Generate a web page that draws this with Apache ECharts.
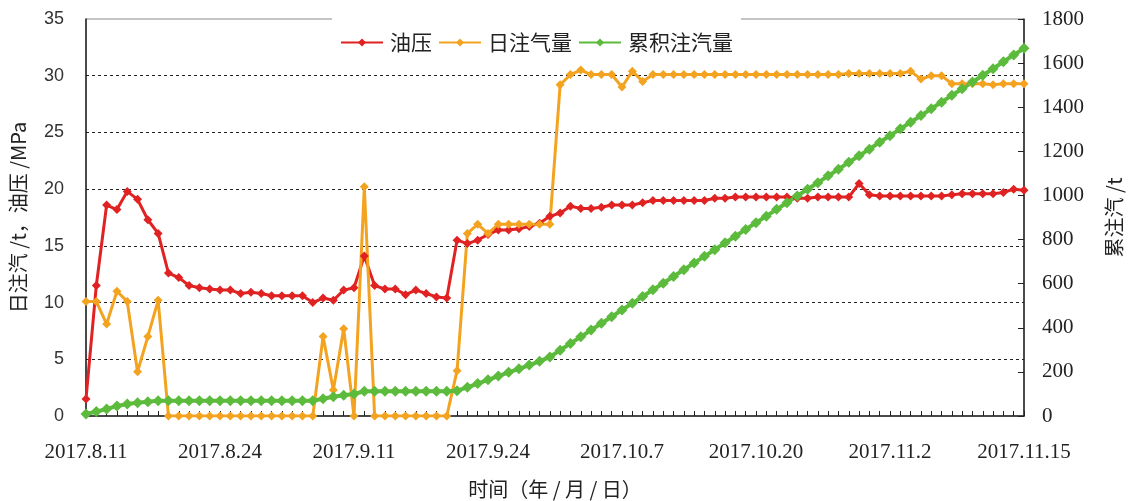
<!DOCTYPE html>
<html>
<head>
<meta charset="utf-8">
<script src="https://cdn.jsdelivr.net/npm/echarts@6/dist/echarts.min.js"></script>
<style>
  html, body { margin: 0; padding: 0; background: #fff; }
  #chart { width: 1128px; height: 501px; }
</style>
</head>
<body>
<div id="chart"></div>
<script>
// x 轴刻度标签（每 13 个点一个）
const tickLabels = ["2017.8.11", "2017.8.24", "2017.9.11", "2017.9.24", "2017.10.7", "2017.10.20", "2017.11.2", "2017.11.15"];
const labelStep = 13;

// 油压 /MPa
const oilPressure = [
  1.5, 11.5, 18.6, 18.2, 19.8, 19.1, 17.3, 16.1, 12.6, 12.2,
  11.5, 11.3, 11.2, 11.1, 11.1, 10.8, 10.9, 10.8, 10.6, 10.6,
  10.6, 10.6, 10.0, 10.4, 10.2, 11.1, 11.3, 14.1, 11.5, 11.2,
  11.2, 10.7, 11.1, 10.8, 10.5, 10.4, 15.5, 15.2, 15.5, 16.0,
  16.4, 16.4, 16.5, 16.7, 17.0, 17.6, 17.9, 18.5, 18.3, 18.3,
  18.4, 18.6, 18.6, 18.6, 18.8, 19.0, 19.0, 19.0, 19.0, 19.0,
  19.0, 19.2, 19.2, 19.3, 19.3, 19.3, 19.3, 19.3, 19.3, 19.2,
  19.2, 19.3, 19.3, 19.3, 19.3, 20.5, 19.5, 19.4, 19.4, 19.4,
  19.4, 19.4, 19.4, 19.4, 19.5, 19.6, 19.6, 19.6, 19.6, 19.7,
  20.0, 19.9
];

// 日注气量 /t
const dailyInjection = [
  10.1, 10.1, 8.1, 11.0, 10.1, 3.9, 7.0, 10.2, 0, 0,
  0, 0, 0, 0, 0, 0, 0, 0, 0, 0,
  0, 0, 0, 7.0, 2.3, 7.7, 0, 20.2, 0, 0,
  0, 0, 0, 0, 0, 0, 4.0, 16.1, 16.9, 16.1,
  16.9, 16.9, 16.9, 16.9, 16.9, 16.9, 29.2, 30.1, 30.5, 30.1,
  30.1, 30.1, 29.0, 30.4, 29.5, 30.1, 30.1, 30.1, 30.1, 30.1,
  30.1, 30.1, 30.1, 30.1, 30.1, 30.1, 30.1, 30.1, 30.1, 30.1,
  30.1, 30.1, 30.1, 30.1, 30.2, 30.2, 30.2, 30.2, 30.2, 30.2,
  30.4, 29.7, 30.0, 30.0, 29.3, 29.3, 29.3, 29.3, 29.2, 29.3,
  29.3, 29.3
];

// 累积注汽量 /t
const cumulativeInjection = [
  9, 20, 32, 45, 54, 60, 65, 69, 69, 69,
  69, 69, 69, 69, 69, 69, 69, 69, 69, 69,
  69, 69, 69, 78, 87, 94, 100, 112, 112, 112,
  112, 112, 112, 112, 112, 112, 115, 130, 147, 164,
  181, 198, 214, 231, 248, 268, 298, 329, 359, 390,
  420, 450, 481, 511, 542, 572, 602, 633, 663, 694,
  724, 754, 785, 815, 846, 876, 906, 937, 967, 998,
  1028, 1058, 1089, 1119, 1150, 1180, 1210, 1241, 1271, 1302,
  1332, 1362, 1393, 1423, 1454, 1484, 1514, 1545, 1575, 1606,
  1637, 1667
];

const categories = oilPressure.map((v, i) => (i % labelStep === 0 ? tickLabels[i / labelStep] : ""));

const cjk = "Noto Sans CJK SC, sans-serif";
const serif = "Liberation Serif, Times New Roman, DejaVu Serif, serif";

const myChart = echarts.init(document.getElementById("chart"), null, { renderer: "canvas" });

const option = {
  animation: false,
  textStyle: { fontFamily: cjk, color: "#222" },
  grid: {
    left: 86,
    right: 104,
    top: 19,
    bottom: 85,
    outerBoundsMode: "none",
    containLabel: false,
    show: true,
    borderColor: "#8a8a8a",
    borderWidth: 1
  },
  legend: {
    left: 332,
    top: 14,
    padding: [18, 8, 8, 8],
    backgroundColor: "#fff",
    itemWidth: 42,
    itemHeight: 10,
    itemGap: 6,
    textStyle: { fontFamily: cjk, fontSize: 21, color: "#222", padding: [0, 0, 0, 2] },
    data: ["油压", "日注气量", "累积注汽量"]
  },
  xAxis: {
    type: "category",
    data: categories,
    boundaryGap: false,
    name: "时间（年 / 月 / 日）",
    nameLocation: "middle",
    nameGap: 63,
    nameTextStyle: { fontFamily: cjk, fontSize: 20, color: "#222" },
    axisLine: { lineStyle: { color: "#222", width: 1.5 } },
    axisTick: { show: true, inside: true, interval: 0, length: 5, lineStyle: { color: "#222" } },
    axisLabel: { interval: 0, margin: 26, fontFamily: serif, fontSize: 21, color: "#222" },
    splitLine: { show: false }
  },
  yAxis: [
    {
      type: "value",
      min: 0,
      max: 35,
      interval: 5,
      name: "日注汽 /t，油压 /MPa",
      nameLocation: "middle",
      nameRotate: 90,
      nameGap: 58,
      nameTextStyle: { fontFamily: cjk, fontSize: 20, color: "#222" },
      axisLine: { show: true, lineStyle: { color: "#222", width: 1.5 } },
      axisTick: { show: false },
      axisLabel: { margin: 22, fontFamily: "Liberation Sans, Arial, sans-serif", fontSize: 18, color: "#333" },
      splitLine: {
        show: true,
        showMinLine: false,
        showMaxLine: false,
        lineStyle: { color: "#222", type: [3, 3], width: 1 }
      }
    },
    {
      type: "value",
      min: 0,
      max: 1800,
      interval: 200,
      position: "right",
      name: "累注汽 /t",
      nameLocation: "middle",
      nameRotate: 90,
      nameGap: 80,
      nameTextStyle: { fontFamily: cjk, fontSize: 20, color: "#222" },
      axisLine: { show: true, lineStyle: { color: "#222", width: 1.5 } },
      axisTick: { show: true, inside: true, length: 6, lineStyle: { color: "#222" } },
      axisLabel: {
        margin: 18,
        fontFamily: serif,
        fontSize: 21,
        color: "#222",
        formatter: value => String(value)
      },
      splitLine: { show: false }
    }
  ],
  series: [
    {
      name: "油压",
      type: "line",
      yAxisIndex: 0,
      data: oilPressure,
      symbol: "diamond",
      symbolSize: [9, 9],
      lineStyle: { color: "#e02222", width: 3 },
      itemStyle: { color: "#e02222" }
    },
    {
      name: "日注气量",
      type: "line",
      yAxisIndex: 0,
      data: dailyInjection,
      symbol: "diamond",
      symbolSize: [9, 9],
      lineStyle: { color: "#f3a320", width: 3 },
      itemStyle: { color: "#f3a320" }
    },
    {
      name: "累积注汽量",
      type: "line",
      yAxisIndex: 1,
      data: cumulativeInjection,
      symbol: "diamond",
      symbolSize: [11, 11],
      lineStyle: { color: "#5cbb3c", width: 4 },
      itemStyle: { color: "#5cbb3c" }
    }
  ]
};

myChart.setOption(option);
</script>
</body>
</html>
